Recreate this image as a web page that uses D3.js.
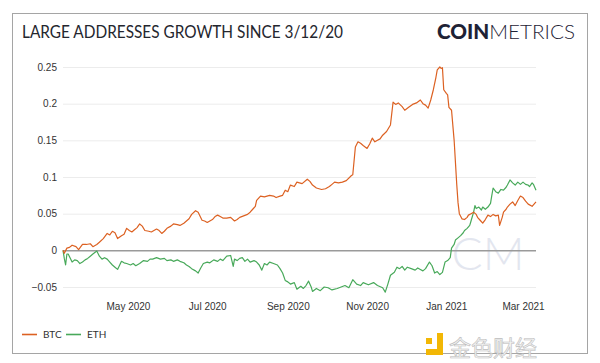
<!DOCTYPE html>
<html><head><meta charset="utf-8">
<script src="https://cdn.jsdelivr.net/npm/d3@7"></script>
<style>body{margin:0;background:#fff}svg{display:block}</style>
</head><body>
<svg id="c" width="600" height="363"></svg>
<script>
// ---- data (days since 3/12/20, growth fraction) ----
const startDate = "2020-03-12";
const title = "LARGE ADDRESSES GROWTH SINCE 3/12/20";
const seriesNames = ["BTC", "ETH"];
const yTicks = [-0.05, 0, 0.05, 0.1, 0.15, 0.2, 0.25];
const yTickLabels = ["\u22120.05", "0", "0.05", "0.1", "0.15", "0.2", "0.25"];
const xTicks = ["2020-05-01", "2020-07-01", "2020-09-01", "2020-11-01", "2021-01-01", "2021-03-01"];
const xTickLabels = ["May 2020", "Jul 2020", "Sep 2020", "Nov 2020", "Jan 2021", "Mar 2021"];

const btcDay = [0,1,3,5,7,10,12,15,18,21,23,26,28,31,34,36,38,40,42,45,47,49,51,53,55,57,59,61,63,66,68,70,72,74,76,78,80,83,85,88,90,93,95,97,99,102,104,107,109,111,113,115,117,119,121,123,126,129,132,134,136,139,142,144,146,148,149,152,155,159,162,164,167,169,171,173,175,178,180,184,188,190,192,195,199,202,205,207,209,212,215,218,222,223,225,227,229,231,234,236,238,240,242,244,246,249,252,254,256,258,261,263,266,269,272,275,277,279,281,283,285,287,288,290,291,292,293,295,296,297,299,301,302,303,304,305,307,309,311,312,314,316,318,319,321,323,325,327,329,331,333,335,336,338,339,341,342,344,346,348,350,352,354,356,358,361,364];
const btcVal = [0,-0.004,0.003,0.004,0.007,0.005,0.001,0.008,0.008,0.009,0.005,0.008,0.011,0.016,0.023,0.021,0.026,0.024,0.016,0.020,0.022,0.030,0.027,0.025,0.028,0.031,0.036,0.033,0.027,0.026,0.025,0.027,0.029,0.027,0.023,0.026,0.030,0.033,0.036,0.035,0.034,0.037,0.040,0.043,0.049,0.054,0.052,0.041,0.040,0.038,0.040,0.042,0.046,0.048,0.046,0.044,0.044,0.045,0.040,0.042,0.045,0.047,0.049,0.052,0.056,0.060,0.068,0.074,0.073,0.075,0.074,0.072,0.074,0.075,0.082,0.080,0.089,0.087,0.093,0.091,0.097,0.094,0.089,0.085,0.083,0.084,0.087,0.090,0.093,0.092,0.093,0.095,0.102,0.103,0.141,0.148,0.146,0.143,0.139,0.145,0.153,0.148,0.150,0.152,0.157,0.162,0.171,0.202,0.199,0.201,0.196,0.191,0.195,0.199,0.201,0.205,0.200,0.198,0.194,0.205,0.219,0.236,0.246,0.250,0.248,0.249,0.219,0.214,0.212,0.195,0.191,0.150,0.120,0.090,0.065,0.050,0.043,0.042,0.045,0.048,0.050,0.052,0.049,0.045,0.041,0.037,0.042,0.048,0.046,0.049,0.047,0.048,0.034,0.045,0.052,0.056,0.059,0.063,0.066,0.061,0.068,0.074,0.072,0.067,0.063,0.060,0.066];

const ethDay = [0,1,2,3,4,7,9,11,13,15,17,19,21,23,26,28,30,32,34,36,38,40,42,45,47,49,52,54,56,59,62,65,67,69,72,75,78,80,83,85,88,90,93,95,97,99,102,104,106,108,111,113,116,119,121,123,126,129,131,132,134,136,138,140,142,144,147,149,151,153,155,157,159,162,165,167,169,171,173,175,178,180,183,185,187,189,191,192,195,198,201,204,207,211,214,217,220,223,226,229,231,235,239,242,246,248,250,252,255,257,259,261,263,265,268,271,273,275,277,279,282,284,286,288,290,292,294,296,298,299,301,302,304,306,308,309,311,313,314,316,317,318,320,322,323,325,327,329,330,331,333,335,337,339,341,342,344,346,348,350,352,354,356,358,359,361,362,364];
const ethVal = [0,-0.011,-0.020,-0.005,-0.005,-0.016,-0.013,-0.014,-0.018,-0.016,-0.013,-0.011,-0.008,-0.005,-0.001,-0.008,-0.012,-0.010,-0.012,-0.016,-0.020,-0.023,-0.026,-0.015,-0.017,-0.018,-0.020,-0.018,-0.021,-0.018,-0.014,-0.015,-0.012,-0.012,-0.010,-0.012,-0.011,-0.014,-0.013,-0.015,-0.013,-0.015,-0.017,-0.020,-0.022,-0.025,-0.028,-0.031,-0.024,-0.018,-0.016,-0.017,-0.013,-0.015,-0.012,-0.014,-0.008,-0.007,-0.022,-0.012,-0.014,-0.011,-0.010,-0.015,-0.012,-0.016,-0.014,-0.016,-0.020,-0.027,-0.018,-0.020,-0.016,-0.018,-0.020,-0.025,-0.031,-0.041,-0.043,-0.046,-0.044,-0.053,-0.049,-0.052,-0.048,-0.042,-0.050,-0.056,-0.052,-0.055,-0.050,-0.051,-0.054,-0.052,-0.050,-0.048,-0.051,-0.040,-0.046,-0.048,-0.044,-0.047,-0.044,-0.048,-0.051,-0.057,-0.046,-0.034,-0.030,-0.023,-0.025,-0.022,-0.027,-0.023,-0.025,-0.027,-0.024,-0.026,-0.028,-0.025,-0.016,-0.021,-0.031,-0.029,-0.033,-0.030,-0.016,-0.014,-0.010,0.003,0.008,0.014,0.017,0.020,0.024,0.027,0.030,0.034,0.040,0.052,0.061,0.057,0.059,0.055,0.059,0.056,0.059,0.064,0.075,0.085,0.080,0.078,0.083,0.082,0.086,0.089,0.096,0.092,0.089,0.093,0.090,0.093,0.090,0.089,0.087,0.092,0.090,0.082];

// ---- layout ----
const svg = d3.select("#c");
const W = 600, H = 363;
const m = {left: 63, right: 536, top: 67, bottom: 287};
const parse = d3.timeParse("%Y-%m-%d");
const start = parse(startDate);
const toDate = d => d3.timeDay.offset(start, d);

const x = d3.scaleTime().domain([start, parse("2021-03-11")]).range([m.left, m.right]);
const y = d3.scaleLinear().domain([-0.05, 0.25]).range([m.bottom, m.top]);

// frame
svg.append("rect").attr("x", 12.5).attr("y", 13.5).attr("width", 575).attr("height", 340)
  .attr("fill", "#fff").attr("stroke", "#a5a5a5").attr("stroke-width", 1);

// title
svg.append("text").attr("x", 22).attr("y", 38).text(title)
  .attr("font-family", "Lato, 'Open Sans', sans-serif").attr("font-size", 17.5)
  .attr("fill", "#24262e").attr("textLength", 321).attr("lengthAdjust", "spacingAndGlyphs");

// logo
const logo = svg.append("text").attr("x", 437).attr("y", 39)
  .attr("font-family", "Lato, 'Open Sans', sans-serif").attr("font-size", 20).attr("fill", "#1e2235")
  .attr("textLength", 138).attr("lengthAdjust", "spacingAndGlyphs");
logo.append("tspan").attr("font-weight", 900).text("COIN");
logo.append("tspan").attr("font-weight", 300).text("METRICS");

// watermark CM
svg.append("text").attr("x", 488).attr("y", 270).attr("text-anchor", "middle")
  .attr("font-family", "Lato, 'Open Sans', sans-serif").attr("font-size", 46).attr("font-weight", 300)
  .attr("fill", "#e3e6ef").text("CM");

// grid
const yAxis = d3.axisLeft(y).tickValues(yTicks).tickSize(-(m.right - m.left))
  .tickFormat((d, i) => yTickLabels[i]);
const gy = svg.append("g").attr("transform", `translate(${m.left},0)`).call(yAxis);
gy.select(".domain").remove();
gy.selectAll(".tick line").attr("stroke", d => d === 0 ? "#9a9a9a" : "#ececec")
  .attr("stroke-width", d => d === 0 ? 1.5 : 1);
gy.selectAll(".tick text").attr("x", -6).attr("font-family", "'Liberation Sans', Arial, sans-serif")
  .attr("font-size", 10).attr("fill", "#333");

const xAxis = d3.axisBottom(x).tickValues(xTicks.map(parse)).tickSize(0)
  .tickFormat((d, i) => xTickLabels[i]);
const gx = svg.append("g").attr("transform", `translate(0,${m.bottom + 13})`).call(xAxis);
gx.select(".domain").remove();
gx.selectAll(".tick text").attr("font-family", "'Liberation Sans', Arial, sans-serif")
  .attr("font-size", 10).attr("fill", "#333");

// lines
const colors = {BTC: "#dc6122", ETH: "#48a95a"};
const line = d3.line().x(d => x(toDate(d[0]))).y(d => y(d[1]));
const btc = btcDay.map((d, i) => [d, btcVal[i]]);
const eth = ethDay.map((d, i) => [d, ethVal[i]]);
svg.append("path").datum(eth).attr("d", line).attr("fill", "none")
  .attr("stroke", colors.ETH).attr("stroke-width", 1.2).attr("stroke-linejoin", "round");
svg.append("path").datum(btc).attr("d", line).attr("fill", "none")
  .attr("stroke", colors.BTC).attr("stroke-width", 1.2).attr("stroke-linejoin", "round");

// legend
const lg = svg.append("g").attr("font-family", "Lato, 'Open Sans', sans-serif").attr("font-size", 10).attr("fill", "#333");
const legX = [22, 66];
seriesNames.forEach((n, i) => {
  lg.append("line").attr("x1", legX[i]).attr("x2", legX[i] + 15).attr("y1", 334.5).attr("y2", 334.5)
    .attr("stroke", colors[n]).attr("stroke-width", 1.6);
  lg.append("text").attr("x", legX[i] + 21).attr("y", 338).text(n);
});

// source watermark
const wm = svg.append("g");
wm.append("rect").attr("x", 426).attr("y", 338).attr("width", 6).attr("height", 6).attr("fill", "#f2b705");
wm.append("path").attr("d", "M437,333 h6 v22 h-17 v-6 h11 z").attr("fill", "#f2b705");
wm.append("text").attr("x", 449).attr("y", 356).text("金色财经")
  .attr("font-family", "'Noto Sans CJK SC', sans-serif").attr("font-size", 22)
  .attr("fill", "#f4f4f4").attr("stroke", "#bcbcbc").attr("stroke-width", 0.6);
</script>
</body></html>
